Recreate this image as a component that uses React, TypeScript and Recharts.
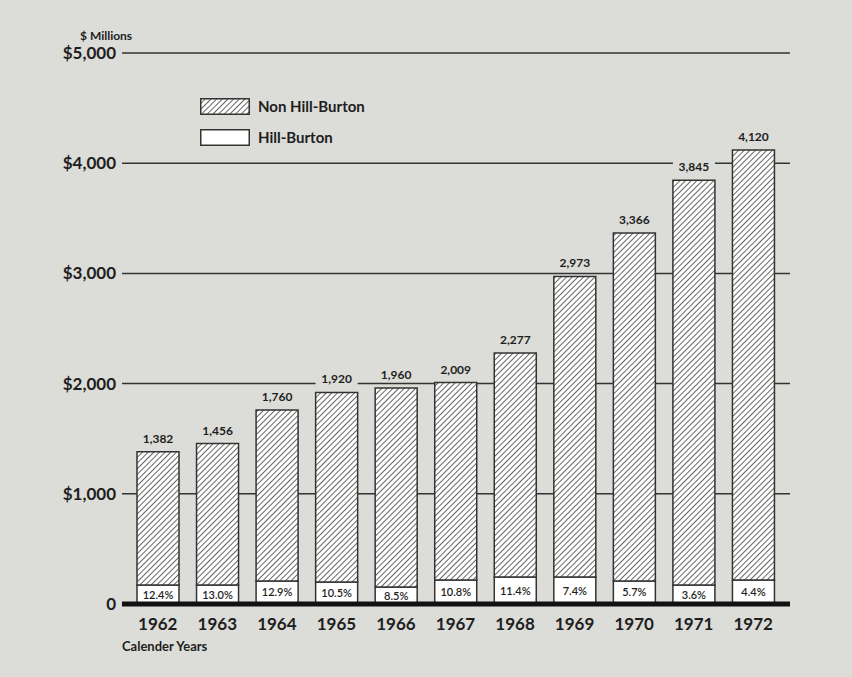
import { BarChart, Bar, XAxis, YAxis, CartesianGrid, LabelList } from "recharts";

const years = ["1962", "1963", "1964", "1965", "1966", "1967", "1968", "1969", "1970", "1971", "1972"];
const totals = [1382, 1456, 1760, 1920, 1960, 2009, 2277, 2973, 3366, 3845, 4120];
// Hill-Burton share as printed, and the white segment height ($M)
const hillBurtonPct = [12.4, 13.0, 12.9, 10.5, 8.5, 10.8, 11.4, 7.4, 5.7, 3.6, 4.4];
const hillBurton = [172, 172, 209, 200, 154, 218, 245, 245, 209, 172, 218];
const yTicks = [0, 1000, 2000, 3000, 4000, 5000];

const BG = "#dcdcd8";
const INK = "#1e1e1e";
const FONT = "Lato, 'DejaVu Sans', sans-serif";

const data = years.map((year, i) => ({
  year,
  total: totals[i],
  pct: hillBurtonPct[i],
  hillBurton: hillBurton[i],
  nonHillBurton: totals[i] - hillBurton[i],
}));

function YTick(props: any) {
  const { x, y, payload } = props;
  const v = payload.value as number;
  const label = v === 0 ? "0" : `$${v.toLocaleString("en-US")}`;
  return (
    <text x={x + 2} y={y} dy={6} textAnchor="end" fontFamily={FONT} fontWeight={700} fontSize={17} fill={INK}>
      {label}
    </text>
  );
}

function XTick(props: any) {
  const { x, y, payload } = props;
  return (
    <text x={x} y={y} dy={18} textAnchor="middle" fontFamily={FONT} fontWeight={700} fontSize={17} fill={INK}>
      {payload.value}
    </text>
  );
}

function TotalLabel(props: any) {
  const { x, y, width, value } = props;
  const cx = x + width / 2;
  const text = Number(value).toLocaleString("en-US");
  return (
    <g>
      <rect x={cx - 21} y={y - 21} width={42} height={15} fill={BG} />
      <text x={cx} y={y - 9} textAnchor="middle" fontFamily={FONT} fontWeight={700} fontSize={12} fill={INK}>
        {text}
      </text>
    </g>
  );
}

function PctLabel(props: any) {
  const { x, y, width, height, value } = props;
  return (
    <text
      x={x + width / 2}
      y={y + height / 2}
      dy={4}
      textAnchor="middle"
      fontFamily={FONT}
      fontWeight={600}
      fontSize={11}
      fill={INK}
    >
      {`${Number(value).toFixed(1)}%`}
    </text>
  );
}

function Swatch({ hatched }: { hatched: boolean }) {
  return (
    <svg width={50} height={17} style={{ display: "block" }}>
      <defs>
        <pattern id="legendHatch" width={4} height={4} patternUnits="userSpaceOnUse" patternTransform="rotate(45)">
          <rect width={4} height={4} fill="#fff" />
          <line x1={0} y1={0} x2={0} y2={4} stroke="#333" strokeWidth={1.5} />
        </pattern>
      </defs>
      <rect x={0.75} y={0.75} width={48.5} height={15.5} fill={hatched ? "url(#legendHatch)" : "#fff"} stroke="#333" strokeWidth={1.5} />
    </svg>
  );
}

export default function App() {
  return (
    <div style={{ position: "absolute", left: 0, top: 0, width: 852, height: 677, background: BG, fontFamily: FONT }}>
      <BarChart
        width={852}
        height={677}
        data={data}
        margin={{ top: 53, right: 62, bottom: 43, left: 0 }}
        barSize={42}
      >
        <defs>
          <pattern id="hatch" width={4} height={4} patternUnits="userSpaceOnUse" patternTransform="rotate(45)">
            <rect width={4} height={4} fill="#fff" />
            <line x1={0} y1={0} x2={0} y2={4} stroke="#333" strokeWidth={1.5} />
          </pattern>
        </defs>
        <CartesianGrid vertical={false} stroke="#333" strokeWidth={1.5} />
        <YAxis
          width={122}
          domain={[0, 5000]}
          ticks={yTicks}
          axisLine={false}
          tickLine={false}
          tick={<YTick />}
        />
        <XAxis
          dataKey="year"
          height={30}
          padding={{ left: 6, right: 7 }}
          axisLine={{ stroke: "#111", strokeWidth: 5 }}
          tickLine={false}
          tick={<XTick />}
        />
        <Bar dataKey="hillBurton" stackId="a" fill="#fff" stroke="#333" strokeWidth={1.5} isAnimationActive={false}>
          <LabelList dataKey="pct" content={<PctLabel />} />
        </Bar>
        <Bar dataKey="nonHillBurton" stackId="a" fill="url(#hatch)" stroke="#333" strokeWidth={1.5} isAnimationActive={false}>
          <LabelList dataKey="total" content={<TotalLabel />} />
        </Bar>
      </BarChart>

      <div style={{ position: "absolute", left: 80, top: 28, fontSize: 12, fontWeight: 700, color: INK }}>$ Millions</div>
      <div style={{ position: "absolute", left: 122, top: 638, fontSize: 13, fontWeight: 700, color: INK }}>Calender Years</div>

      <div style={{ position: "absolute", left: 200, top: 97, color: INK }}>
        <div style={{ display: "flex", alignItems: "center", gap: 8, marginBottom: 13 }}>
          <Swatch hatched={true} />
          <span style={{ fontSize: 15, fontWeight: 700 }}>Non Hill-Burton</span>
        </div>
        <div style={{ display: "flex", alignItems: "center", gap: 8 }}>
          <Swatch hatched={false} />
          <span style={{ fontSize: 15, fontWeight: 700 }}>Hill-Burton</span>
        </div>
      </div>
    </div>
  );
}
